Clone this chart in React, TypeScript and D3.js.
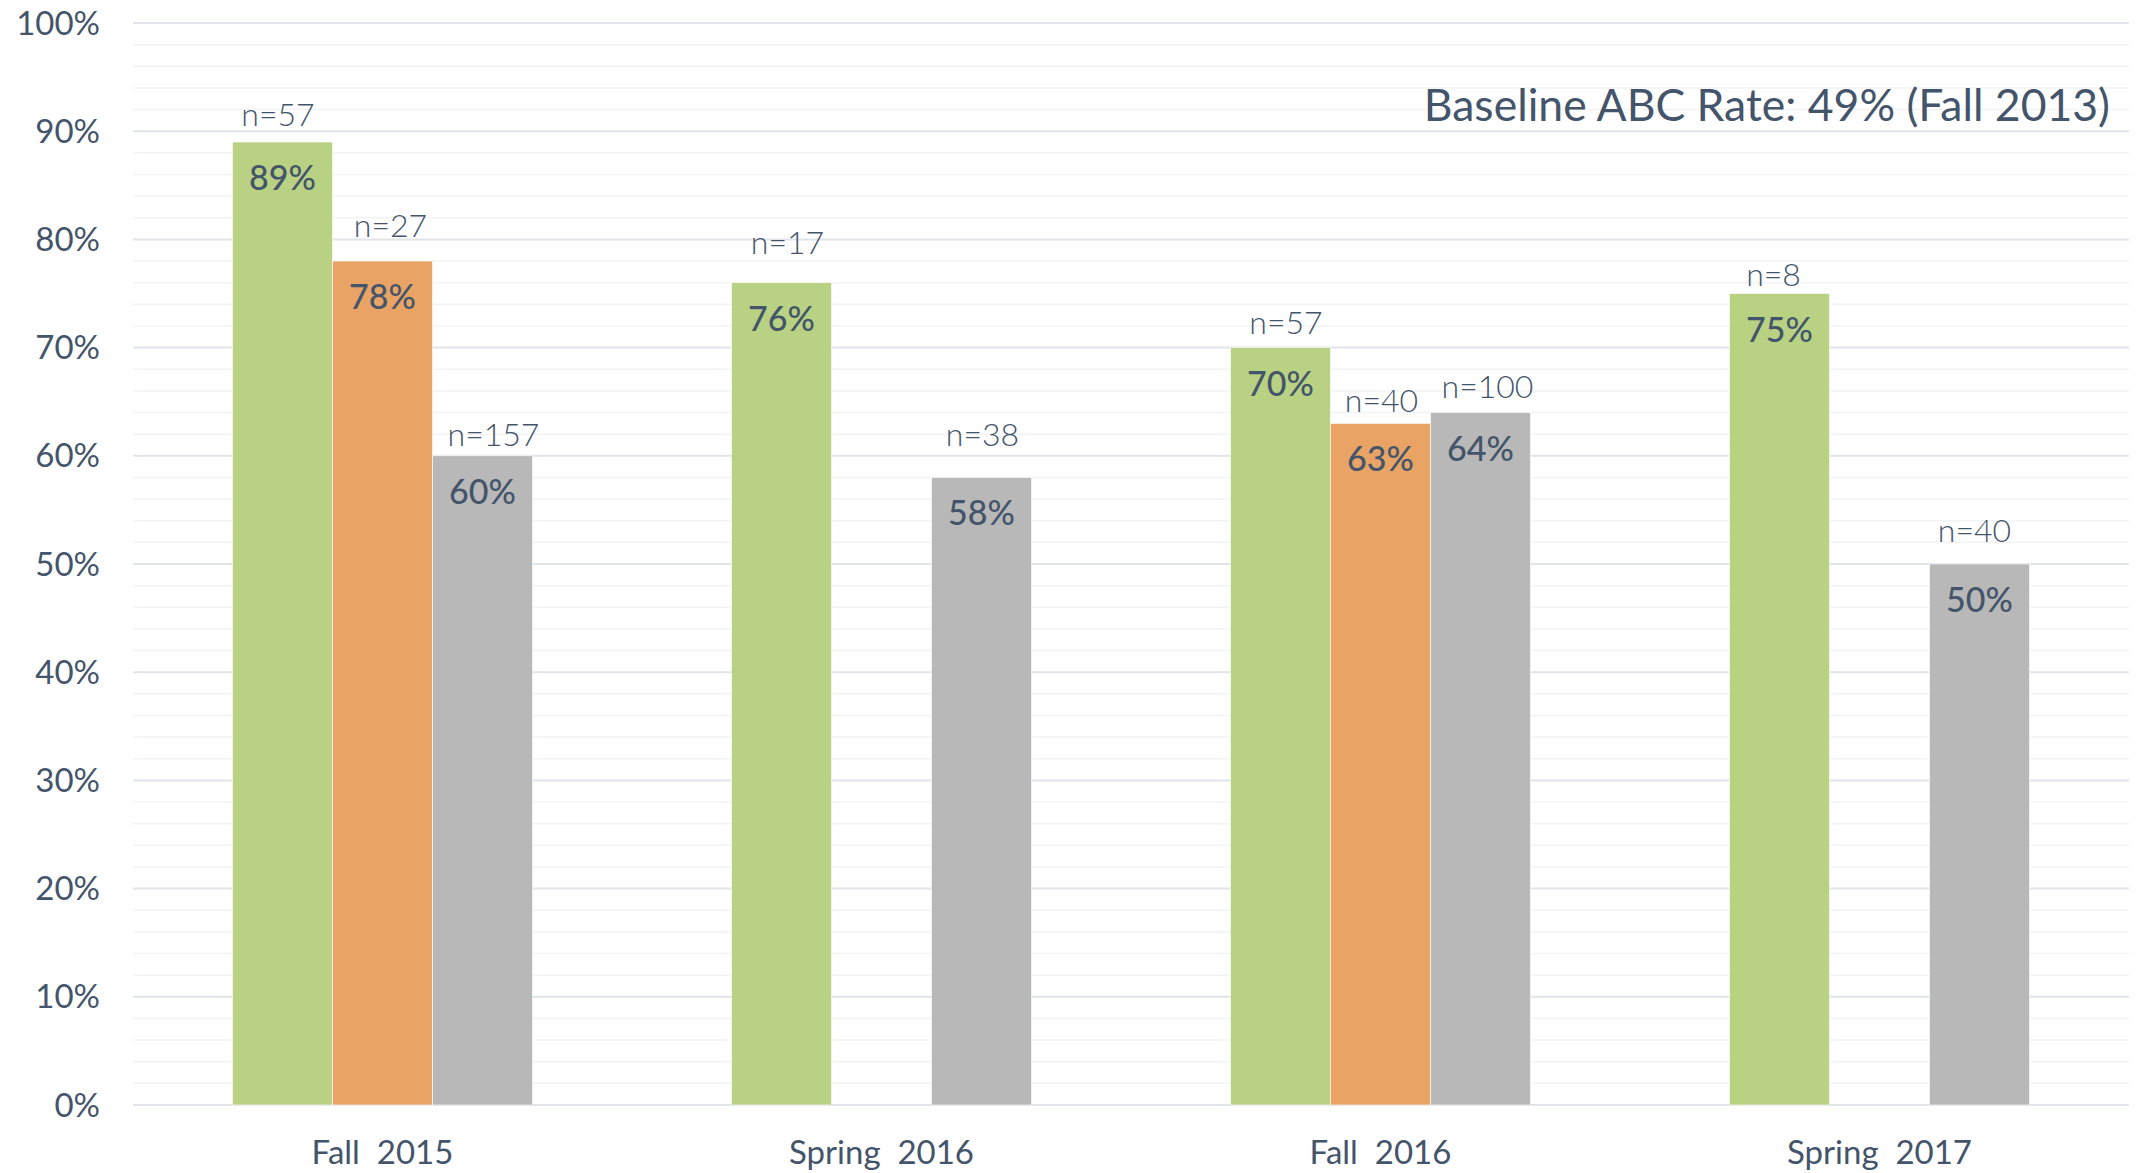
import React from "react";
import * as d3 from "d3";

const categories = ["Fall  2015", "Spring  2016", "Fall  2016", "Spring  2017"];
const seriesKeys = ["green", "orange", "gray"];
const greenValues = [89, 76, 70, 75];
const orangeValues: (number | null)[] = [78, null, 63, null];
const grayValues = [60, 58, 64, 50];
const greenN = ["n=57", "n=17", "n=57", "n=8"];
const orangeN: (string | null)[] = ["n=27", null, "n=40", null];
const grayN = ["n=157", "n=38", "n=100", "n=40"];
const yTicks = [0, 10, 20, 30, 40, 50, 60, 70, 80, 90, 100];
const minorTicks = d3.range(0, 101, 2);
const titleText = "Baseline ABC Rate: 49% (Fall 2013)";

// layout of the hand-placed "n=" text boxes (pixels: gap above bar top, horizontal nudge)
const nLabelLayout: Record<string, { gap: number[]; dx: number[] }> = {
  green: { gap: [16, 29, 14, 8], dx: [-4.5, 6, 5.5, -6] },
  orange: { gap: [24, 0, 11, 0], dx: [8, 0, 1, 0] },
  gray: { gap: [10, 31, 15, 22], dx: [11, 1, 7, -5] },
};

const colors: Record<string, string> = {
  green: "#B9D183",
  orange: "#E9A465",
  gray: "#B8B8B8",
};
const textColor = "#44546A";
const font = "Lato, 'Noto Sans', sans-serif";

const W = 2144;
const H = 1173;
const left = 133;
const right = 2129;
const top = 23;
const bottom = 1105;

export default function App() {
  const x = d3.scaleBand<string>().domain(categories).range([left, right]).paddingInner(0).paddingOuter(0);
  const groupW = 300;
  const xs = d3.scaleBand<string>().domain(seriesKeys).range([0, groupW]);
  const y = d3.scaleLinear().domain([0, 100]).range([bottom, top]);

  const seriesData: Record<string, { v: (number | null)[]; n: (string | null)[] }> = {
    green: { v: greenValues, n: greenN },
    orange: { v: orangeValues, n: orangeN },
    gray: { v: grayValues, n: grayN },
  };

  const bars: { key: string; cat: string; i: number; v: number; n: string | null }[] = [];
  categories.forEach((c, i) => {
    seriesKeys.forEach((k) => {
      const v = seriesData[k].v[i];
      if (v != null) bars.push({ key: k, cat: c, i, v, n: seriesData[k].n[i] });
    });
  });

  return (
    <svg
      width={W}
      height={H}
      style={{ position: "absolute", left: 0, top: 0, background: "#fff" }}
      fontFamily={font}
    >
      {minorTicks.map((t) => (
        <line key={"m" + t} x1={left} x2={right} y1={y(t)} y2={y(t)} stroke="#F2F3F5" strokeWidth={1.5} />
      ))}
      {yTicks.map((t) => (
        <line key={"g" + t} x1={left} x2={right} y1={y(t)} y2={y(t)} stroke="#E1E5EA" strokeWidth={2} />
      ))}
      {yTicks.map((t) => (
        <text key={"yl" + t} x={100} y={y(t)} dy="0.35em" textAnchor="end" fontSize={33} fill={textColor}>
          {t + "%"}
        </text>
      ))}
      {bars.map((b) => {
        const bx = (x(b.cat) as number) + (x.bandwidth() - groupW) / 2 + (xs(b.key) as number);
        const bw = xs.bandwidth();
        const by = y(b.v);
        const lay = nLabelLayout[b.key];
        return (
          <g key={b.cat + b.key}>
            <rect x={bx} y={by} width={bw} height={bottom - by} fill={colors[b.key]} stroke="#fff" strokeWidth={0.6} />
            <text x={bx + bw / 2} y={by + 48} textAnchor="middle" fontSize={34} fontWeight={500} fill={textColor}>
              {b.v + "%"}
            </text>
            {b.n && (
              <text
                x={bx + bw / 2 + lay.dx[b.i]}
                y={by - lay.gap[b.i]}
                textAnchor="middle"
                fontSize={32}
                fontWeight={300}
                fill={textColor}
              >
                {b.n}
              </text>
            )}
          </g>
        );
      })}
      {categories.map((c) => (
        <text
          key={"c" + c}
          x={(x(c) as number) + x.bandwidth() / 2}
          y={1164}
          textAnchor="middle"
          fontSize={33}
          fill={textColor}
          style={{ whiteSpace: "pre" }}
        >
          {c}
        </text>
      ))}
      <text x={2110} y={121} textAnchor="end" fontSize={44.5} fill={textColor}>
        {titleText}
      </text>
    </svg>
  );
}
